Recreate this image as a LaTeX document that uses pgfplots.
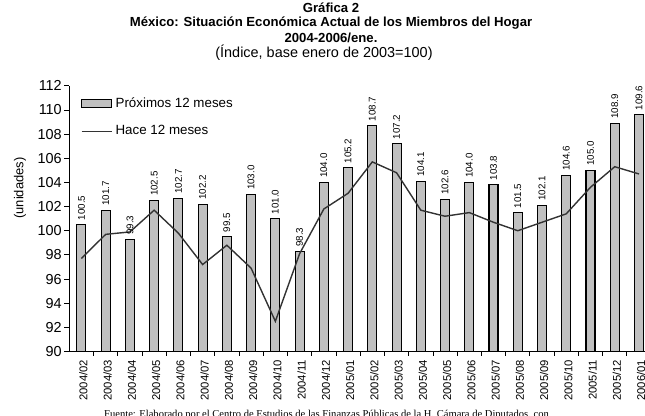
\documentclass[border=0pt]{standalone}
\usepackage{fontspec}
\setmainfont{Liberation Sans}
\newfontfamily\seriffont{Liberation Serif}
\usepackage{pgfplots}
\pgfplotsset{compat=1.18}
\definecolor{barC}{HTML}{C0C0C0}
\definecolor{lineC}{HTML}{333333}

\begin{document}
\begin{tikzpicture}
\useasboundingbox (0bp,0bp) rectangle (645bp,416bp);
\clip (0bp,0bp) rectangle (645bp,416bp);
\node[font=\fontsize{13.2}{15}\selectfont\bfseries] at (331bp,408bp) {Gráfica 2};
\node[font=\fontsize{13.2}{15}\selectfont\bfseries] at (331bp,393bp) {México: Situación Económica Actual de los Miembros del Hogar};
\node[font=\fontsize{13.2}{15}\selectfont\bfseries] at (331bp,378bp) {2004-2006/ene.};
\node[font=\fontsize{14.5}{16}\selectfont] at (324bp,363bp) {(Índice, base enero de 2003=100)};
\node[font=\fontsize{13}{15}\selectfont, rotate=90] at (20bp,228bp) {(unidades)};
\node[font=\seriffont\fontsize{10.6}{12}\selectfont, anchor=base west, inner sep=0pt] at (104bp,-1bp) {Fuente: Elaborado por el Centro de Estudios de las Finanzas Públicas de la H. Cámara de Diputados, con};
\begin{scope}[shift={(69.3bp,64.5bp)}]
\begin{axis}[
  at={(0pt,0pt)}, anchor=south west,
  scale only axis, width=581.8bp, height=265.7bp,
  xmin=-0.5, xmax=23.5, ymin=90, ymax=112,
  axis x line*=bottom, axis y line*=left,
  axis line style={black, line width=0.8bp},
  tick align=outside,
  major tick length=5bp, minor tick length=4bp,
  tick style={black, line width=0.8bp},
  ytick={90,92,...,112},
  xtick={0,...,23},
  minor x tick num=1,
  every major x tick/.append style={draw=none},
  xticklabels={2004/02,2004/03,2004/04,2004/05,2004/06,2004/07,2004/08,2004/09,2004/10,2004/11,2004/12,2005/01,2005/02,2005/03,2005/04,2005/05,2005/06,2005/07,2005/08,2005/09,2005/10,2005/11,2005/12,2006/01},
  xticklabel style={rotate=90, anchor=east, yshift=-2bp, font=\fontsize{11.3}{13}\selectfont},
  yticklabel style={font=\fontsize{14.5}{16}\selectfont, xshift=1bp},
  /pgf/number format/assume math mode=true,
  legend cell align=left,
  legend style={draw=none, fill=none, at={(0.0196,0.957)}, anchor=north west,
    inner sep=0pt, row sep=14.5bp,
    nodes={inner sep=0pt, text height=10bp, text depth=3bp, font=\fontsize{13.4}{16}\selectfont},
    /tikz/every odd column/.append style={column sep=3.3bp}},
]
\addplot[ybar, bar width=9bp, bar shift=0pt, fill=barC, draw=black, line width=1.1bp,
  nodes near coords,
  nodes near coords style={rotate=90, anchor=west, inner xsep=4bp, inner ysep=0pt,
    font=\fontsize{9.8}{11}\selectfont, text=black,
    /pgf/number format/.cd, fixed, fixed zerofill, precision=1, assume math mode=true},
  legend image code/.code={\draw[fill=barC, draw=black, line width=1.1bp] (0bp,-4bp) rectangle (30bp,4bp);}]
coordinates {
(0,100.5) (1,101.7) (2,99.3) (3,102.5) (4,102.7) (5,102.2) (6,99.5) (7,103.0)
(8,101.0) (9,98.3) (10,104.0) (11,105.2) (12,108.7) (13,107.2) (14,104.1) (15,102.6)
(16,104.0) (17,103.8) (18,101.5) (19,102.1) (20,104.6) (21,105.0) (22,108.9) (23,109.6)
};
\addlegendentry{Próximos 12 meses}
\addplot[lineC, line width=1.4bp, mark=none,
  legend image code/.code={\draw[lineC, line width=1.4bp] (0bp,0bp) -- (30bp,0bp);}]
coordinates {
(0,97.7) (1,99.7) (2,99.9) (3,101.7) (4,99.8) (5,97.2) (6,98.8) (7,96.9)
(8,92.5) (9,98.1) (10,101.8) (11,103.1) (12,105.7) (13,104.8) (14,101.7) (15,101.2)
(16,101.5) (17,100.7) (18,100.0) (19,100.7) (20,101.4) (21,103.6) (22,105.3) (23,104.7)
};
\addlegendentry{Hace 12 meses}
\end{axis}
\end{scope}
\end{tikzpicture}
\end{document}
